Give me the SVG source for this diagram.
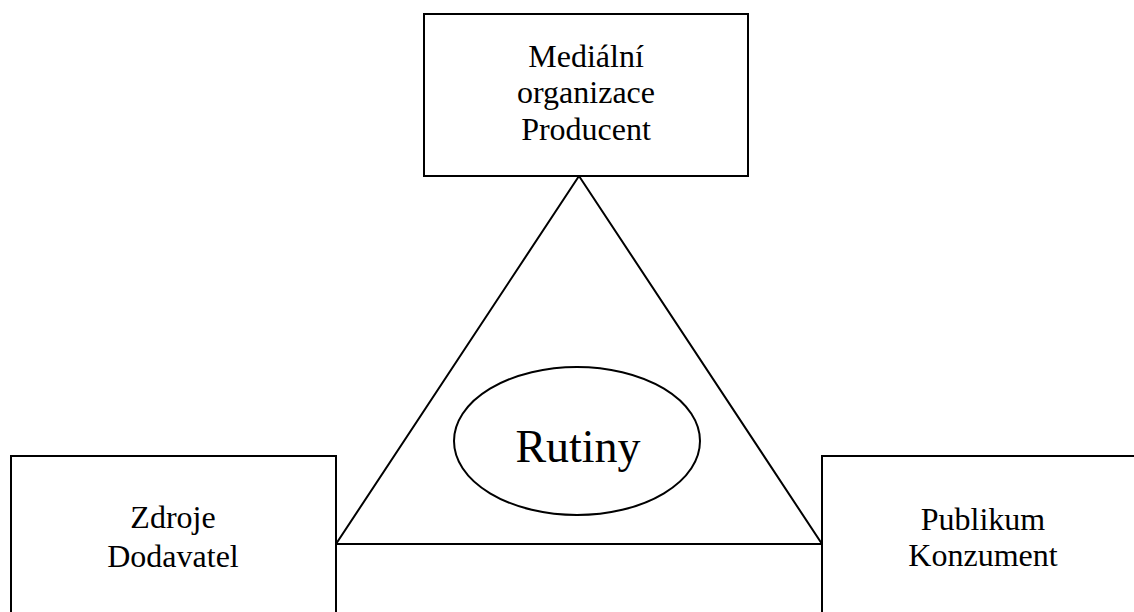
<svg xmlns="http://www.w3.org/2000/svg" width="1134" height="612" viewBox="0 0 1134 612">
<style>
.box{fill:#fff;stroke:#000;stroke-width:2}
.ln{fill:none;stroke:#000;stroke-width:2}
.t{font-family:"Liberation Serif","Times New Roman",serif;font-size:32px;fill:#000;text-anchor:middle}
.big{font-size:46px}
</style>
<rect width="1134" height="612" fill="#fff"/>
<g id="connectors">
<polygon class="ln" points="579,176 336,544 822,544"/>
</g>
<g id="producent">
<rect class="box" x="424" y="14" width="324" height="162"/>
<text class="t" x="586" y="67">Mediální</text>
<text class="t" x="586" y="103">organizace</text>
<text class="t" x="586" y="140">Producent</text>
</g>
<g id="zdroje">
<rect class="box" x="11" y="456" width="325" height="170"/>
<text class="t" x="173" y="528">Zdroje</text>
<text class="t" x="173" y="567">Dodavatel</text>
</g>
<g id="publikum">
<rect class="box" x="822" y="456" width="330" height="170"/>
<text class="t" x="983" y="530">Publikum</text>
<text class="t" x="983" y="566">Konzument</text>
</g>
<g id="rutiny">
<ellipse class="ln" cx="577" cy="441" rx="123" ry="74"/>
<text class="t big" x="578" y="462">Rutiny</text>
</g>
</svg>
